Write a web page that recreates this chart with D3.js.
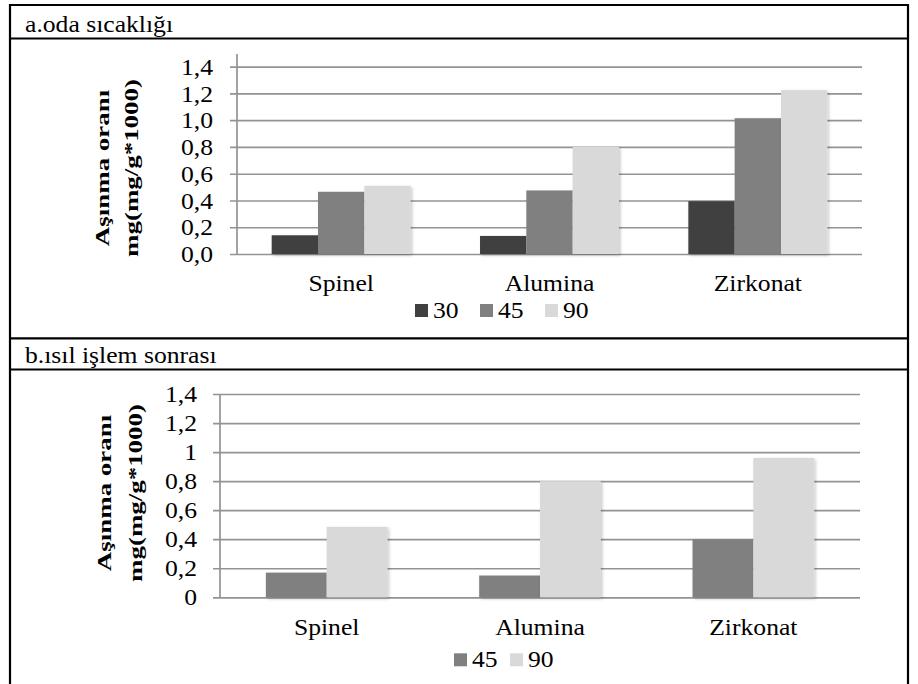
<!DOCTYPE html>
<html>
<head>
<meta charset="utf-8">
<script src="https://cdn.jsdelivr.net/npm/d3@7"></script>
<style>
  html, body { margin: 0; padding: 0; background: #fff; }
  svg { display: block; }
  text { font-family: "Liberation Serif", "Times New Roman", serif; fill: #000; }
</style>
</head>
<body>
<svg id="chart" width="918" height="684"></svg>
<script>
// ---------- data ----------
const categories = ["Spinel", "Alumina", "Zirkonat"];

const seriesA = ["30", "45", "90"];
const a30 = [0.14, 0.135, 0.395];
const a45 = [0.465, 0.475, 1.015];
const a90 = [0.51, 0.80, 1.225];

const seriesB = ["45", "90"];
const b45 = [0.17, 0.15, 0.40];
const b90 = [0.485, 0.80, 0.96];

const tickValues = [0, 0.2, 0.4, 0.6, 0.8, 1.0, 1.2, 1.4];
const tickLabelsA = ["0,0", "0,2", "0,4", "0,6", "0,8", "1,0", "1,2", "1,4"];
const tickLabelsB = ["0", "0,2", "0,4", "0,6", "0,8", "1", "1,2", "1,4"];

const titleA = "a.oda sıcaklığı";
const titleB = "b.ısıl işlem sonrası";
const yTitle1 = "Aşınma oranı";
const yTitle2 = "mg(mg/g*1000)";

const colors = { "30": "#404040", "45": "#808080", "90": "#d9d9d9" };

// ---------- drawing ----------
const svg = d3.select("#chart");
const FONT = "'Liberation Serif', 'Times New Roman', serif";
const FS = 22.5, SX = 1.14;

const defs = svg.append("defs");
const f = defs.append("filter").attr("id", "shadow")
  .attr("x", "-10%").attr("y", "-10%").attr("width", "130%").attr("height", "130%");
f.append("feDropShadow").attr("dx", 1.5).attr("dy", 1.5)
  .attr("stdDeviation", 1.5).attr("flood-color", "#000").attr("flood-opacity", 0.22);

function hText(g, x, y, str, anchor) {
  return g.append("text")
    .attr("transform", `translate(${x},${y}) scale(${SX},1)`)
    .attr("text-anchor", anchor || "start")
    .attr("font-family", FONT)
    .attr("font-size", FS)
    .text(str);
}

// table frame
const frame = svg.append("g").attr("stroke", "#000").attr("stroke-width", 2.2);
frame.append("line").attr("x1", 9).attr("x2", 909).attr("y1", 5).attr("y2", 5);
frame.append("line").attr("x1", 9).attr("x2", 909).attr("y1", 38.5).attr("y2", 38.5);
frame.append("line").attr("x1", 9).attr("x2", 909).attr("y1", 338.3).attr("y2", 338.3);
frame.append("line").attr("x1", 9).attr("x2", 909).attr("y1", 369.5).attr("y2", 369.5);
frame.append("line").attr("x1", 10).attr("x2", 10).attr("y1", 4).attr("y2", 684);
frame.append("line").attr("x1", 908).attr("x2", 908).attr("y1", 4).attr("y2", 684);

hText(svg, 25, 31.5, titleA);
hText(svg, 25, 363, titleB);

function drawChart(cfg) {
  const g = svg.append("g");
  const x0 = d3.scaleBand().domain(categories)
    .range([cfg.left, cfg.right])
    .paddingInner(cfg.pad).paddingOuter(cfg.pad / 2);
  const x1 = d3.scaleBand().domain(cfg.keys).range([0, x0.bandwidth()]);
  const y = d3.scaleLinear().domain([0, 1.4]).range([cfg.bottom, cfg.top]);

  // gridlines + tick labels via axis
  const ax = g.append("g")
    .attr("transform", `translate(${cfg.left - 7},0)`)
    .call(d3.axisLeft(y).tickValues(tickValues)
      .tickSize(-(cfg.right - cfg.left + 7))
      .tickPadding(cfg.labelPad)
      .tickFormat((d, i) => cfg.tickLabels[i]));
  ax.select(".domain").remove();
  ax.selectAll(".tick line")
    .attr("stroke", "#939393").attr("stroke-width", 1.7);
  ax.selectAll(".tick text")
    .attr("x", null).attr("dy", null)
    .attr("transform", `translate(${-cfg.labelPad},${FS * 0.34}) scale(${SX},1)`)
    .attr("font-size", FS).attr("font-family", FONT)
    .attr("fill", "#000").attr("text-anchor", "end");

  // vertical axis line
  g.append("line")
    .attr("x1", cfg.left).attr("x2", cfg.left)
    .attr("y1", cfg.axisTop).attr("y2", cfg.bottom)
    .attr("stroke", "#939393").attr("stroke-width", 1.7);

  // bars
  const rows = categories.map((c, i) => ({ cat: c, vals: cfg.keys.map(k => ({ key: k, v: cfg.data[k][i] })) }));
  g.append("g").selectAll("g").data(rows).join("g")
    .attr("transform", d => `translate(${x0(d.cat)},0)`)
    .selectAll("rect").data(d => d.vals).join("rect")
    .attr("x", d => x1(d.key))
    .attr("width", x1.bandwidth())
    .attr("y", d => y(d.v))
    .attr("height", d => y(0) - y(d.v))
    .attr("fill", d => colors[d.key])
    .attr("filter", "url(#shadow)");

  // category labels via axis
  const bx = g.append("g")
    .attr("transform", `translate(0,${cfg.bottom})`)
    .call(d3.axisBottom(x0).tickSize(0));
  bx.select(".domain").remove();
  bx.selectAll(".tick text")
    .attr("y", null).attr("dy", null)
    .attr("transform", `translate(0,${cfg.catOffset}) scale(${SX},1)`)
    .attr("font-size", FS).attr("font-family", FONT)
    .attr("fill", "#000").attr("text-anchor", "middle");

  // y title (two rotated lines)
  const tScale = 1.36, tFS = 19.8;
  [[yTitle1, cfg.t1x], [yTitle2, cfg.t2x]].forEach(([s, tx]) => {
    g.append("text")
      .attr("transform", `translate(${tx},${cfg.tCenter}) rotate(-90) scale(${tScale},1)`)
      .attr("text-anchor", "middle")
      .attr("font-family", FONT)
      .attr("font-size", tFS).attr("font-weight", "bold")
      .text(s);
  });

  // legend
  const lg = g.append("g");
  cfg.keys.forEach((k, i) => {
    const lx = cfg.legX + i * cfg.legStep;
    lg.append("rect").attr("x", lx).attr("y", cfg.legY)
      .attr("width", 13).attr("height", 13).attr("fill", colors[k]);
    hText(lg, lx + 18, cfg.legY + 13.5, k);
  });
}

drawChart({
  keys: seriesA, data: { "30": a30, "45": a45, "90": a90 },
  tickLabels: tickLabelsA,
  left: 237, right: 862, top: 66.7, bottom: 254, axisTop: 54,
  pad: 0.333, labelPad: 17, catOffset: 37,
  t1x: 109, t2x: 138, tCenter: 168,
  legX: 415, legY: 304, legStep: 65
});

drawChart({
  keys: seriesB, data: { "45": b45, "90": b90 },
  tickLabels: tickLabelsB,
  left: 220, right: 860, top: 394, bottom: 597.3, axisTop: 394,
  pad: 0.43, labelPad: 16, catOffset: 37.7,
  t1x: 110.5, t2x: 141.5, tCenter: 493,
  legX: 454, legY: 653.3, legStep: 56
});
</script>
</body>
</html>
